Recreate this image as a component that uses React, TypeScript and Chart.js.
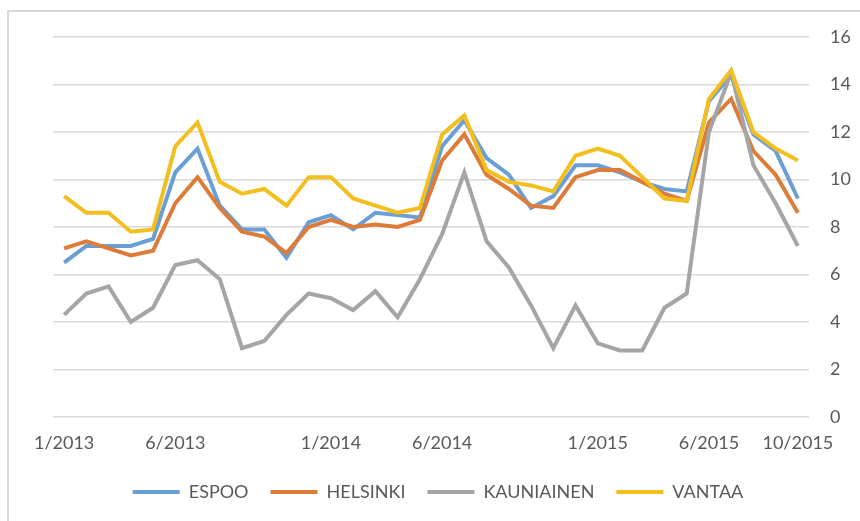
import React, { useEffect, useRef } from "react";
import { Chart, registerables } from "chart.js";

Chart.register(...registerables);

const categories = [
  "1/2013", "2/2013", "3/2013", "4/2013", "5/2013", "6/2013", "7/2013", "8/2013", "9/2013", "10/2013", "11/2013", "12/2013",
  "1/2014", "2/2014", "3/2014", "4/2014", "5/2014", "6/2014", "7/2014", "8/2014", "9/2014", "10/2014", "11/2014", "12/2014",
  "1/2015", "2/2015", "3/2015", "4/2015", "5/2015", "6/2015", "7/2015", "8/2015", "9/2015", "10/2015",
];

const shownLabels = ["1/2013", "6/2013", "1/2014", "6/2014", "1/2015", "6/2015", "10/2015"];

const espoo = [6.5, 7.2, 7.2, 7.2, 7.5, 10.3, 11.3, 8.9, 7.9, 7.9, 6.7, 8.2, 8.5, 7.9, 8.6, 8.5, 8.4, 11.4, 12.5, 10.9, 10.2, 8.8, 9.3, 10.6, 10.6, 10.3, 9.9, 9.6, 9.5, 13.3, 14.4, 11.9, 11.2, 9.2];
const helsinki = [7.1, 7.4, 7.1, 6.8, 7.0, 9.0, 10.1, 8.8, 7.8, 7.6, 6.9, 8.0, 8.3, 8.0, 8.1, 8.0, 8.3, 10.8, 11.9, 10.2, 9.6, 8.9, 8.8, 10.1, 10.4, 10.4, 9.9, 9.4, 9.1, 12.4, 13.4, 11.2, 10.2, 8.6];
const kauniainen = [4.3, 5.2, 5.5, 4.0, 4.6, 6.4, 6.6, 5.8, 2.9, 3.2, 4.3, 5.2, 5.0, 4.5, 5.3, 4.2, 5.8, 7.7, 10.3, 7.4, 6.3, 4.7, 2.9, 4.7, 3.1, 2.8, 2.8, 4.6, 5.2, 12.0, 14.5, 10.6, 9.0, 7.2];
const vantaa = [9.3, 8.6, 8.6, 7.8, 7.9, 11.4, 12.4, 9.9, 9.4, 9.6, 8.9, 10.1, 10.1, 9.2, 8.9, 8.6, 8.8, 11.9, 12.7, 10.4, 9.9, 9.75, 9.5, 11.0, 11.3, 11.0, 10.1, 9.2, 9.1, 13.4, 14.6, 12.0, 11.3, 10.8];

const seriesNames = ["ESPOO", "HELSINKI", "KAUNIAINEN", "VANTAA"];
const seriesColors = ["#6A9FD6", "#DD7C38", "#A5A5A5", "#F3BF1F"];

const FONT = "Lato, 'Open Sans', sans-serif";
const TEXT = "#595959";

export default function App() {
  const ref = useRef<HTMLCanvasElement | null>(null);

  useEffect(() => {
    document.body.style.margin = "0";
    document.body.style.overflow = "hidden";
    const values = [espoo, helsinki, kauniainen, vantaa];
    const datasets = values
      .map((d, i) => ({
        label: seriesNames[i],
        data: d,
        borderColor: seriesColors[i],
        backgroundColor: seriesColors[i],
        borderWidth: 4,
        pointRadius: 0,
        pointHoverRadius: 0,
        tension: 0,
        fill: false,
        yAxisID: "y",
      }))
      .reverse();

    const chart = new Chart(ref.current!, {
      type: "line",
      data: { labels: categories, datasets },
      options: {
        animation: false,
        responsive: false,
        maintainAspectRatio: false,
        layout: { padding: { left: 16, right: 0, top: 37, bottom: 10 } },
        plugins: {
          tooltip: { enabled: false },
          legend: {
            position: "bottom",
            reverse: true,
            labels: {
              boxWidth: 47,
              boxHeight: 4,
              padding: 22,
              color: TEXT,
              font: { family: FONT, size: 18 },
              generateLabels: (c: any) =>
                Chart.defaults.plugins.legend.labels.generateLabels(c).map((l: any) => ({
                  ...l,
                  lineWidth: 0,
                  strokeStyle: "rgba(0,0,0,0)",
                })),
            },
          },
        },
        scales: {
          x: {
            type: "category",
            offset: true,
            grid: { display: false, drawTicks: false },
            border: { display: false },
            afterFit: (s: any) => {
              s.height = 44;
            },
            ticks: {
              autoSkip: false,
              maxRotation: 0,
              minRotation: 0,
              padding: 15,
              color: TEXT,
              font: { family: FONT, size: 18 },
              callback: (_v: any, idx: number) =>
                shownLabels.includes(categories[idx]) ? categories[idx] : "",
            },
          },
          spacer: {
            type: "linear",
            position: "left",
            grid: { display: false, drawTicks: false },
            border: { display: false },
            ticks: { display: false },
            afterFit: (s: any) => {
              s.width = 37;
            },
          },
          y: {
            position: "right",
            min: 0,
            max: 16,
            grid: { color: "#d9d9d9", lineWidth: 1.5, drawTicks: false },
            border: { display: false },
            afterFit: (s: any) => {
              s.width = 51;
            },
            ticks: {
              stepSize: 2,
              padding: 21,
              color: TEXT,
              font: { family: FONT, size: 18 },
            },
          },
        },
      },
    });
    return () => chart.destroy();
  }, []);

  return (
    <div style={{ position: "relative", width: 860, height: 521, overflow: "hidden", background: "#fff" }}>
      <div
        style={{
          position: "absolute",
          left: 7,
          top: 10,
          width: 900,
          height: 600,
          border: "2px solid #d9d9d9",
          boxSizing: "border-box",
        }}
      />
      <canvas ref={ref} width={860} height={521} style={{ position: "absolute", left: 0, top: 0 }} />
    </div>
  );
}
